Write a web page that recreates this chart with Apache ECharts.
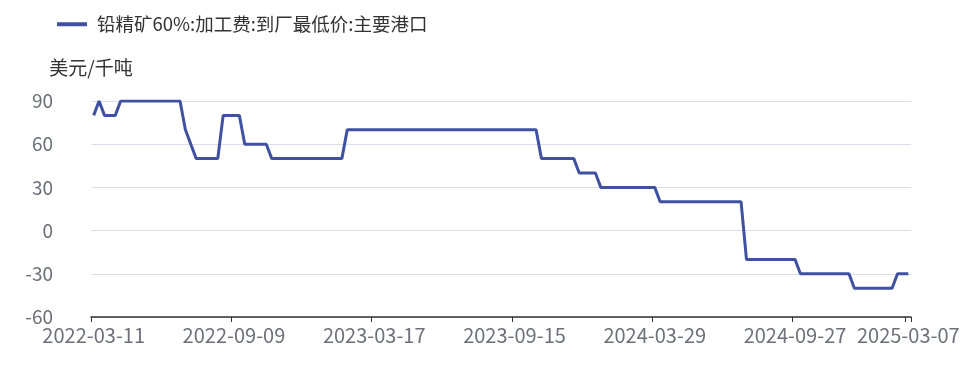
<!DOCTYPE html>
<html><head><meta charset="utf-8">
<script src="https://cdn.jsdelivr.net/npm/echarts@6/dist/echarts.min.js"></script>
<style>html,body{margin:0;padding:0;background:#fff}#c{width:980px;height:375px}</style>
</head><body><div id="c"></div>
<script>
const seriesName = '铅精矿60%:加工费:到厂最低价:主要港口';
const yUnit = '美元/千吨';
const dates = [
'2022-03-11','2022-03-18','2022-03-25','2022-04-01','2022-04-08','2022-04-15','2022-04-22','2022-04-29','2022-05-06','2022-05-13','2022-05-20','2022-05-27','2022-06-03','2022-06-10','2022-06-17','2022-06-24','2022-07-01','2022-07-08','2022-07-15','2022-07-22','2022-07-29','2022-08-05','2022-08-12','2022-08-19','2022-08-26','2022-09-02',
'2022-09-09','2022-09-16','2022-09-23','2022-09-30','2022-10-07','2022-10-14','2022-10-21','2022-10-28','2022-11-04','2022-11-11','2022-11-18','2022-11-25','2022-12-02','2022-12-09','2022-12-16','2022-12-23','2022-12-30','2023-01-06','2023-01-13','2023-01-20','2023-02-03','2023-02-10','2023-02-17','2023-02-24','2023-03-03','2023-03-10',
'2023-03-17','2023-03-24','2023-03-31','2023-04-07','2023-04-14','2023-04-21','2023-04-28','2023-05-05','2023-05-12','2023-05-19','2023-05-26','2023-06-02','2023-06-09','2023-06-16','2023-06-23','2023-06-30','2023-07-07','2023-07-14','2023-07-21','2023-07-28','2023-08-04','2023-08-11','2023-08-18','2023-08-25','2023-09-01','2023-09-08',
'2023-09-15','2023-09-22','2023-09-29','2023-10-13','2023-10-20','2023-10-27','2023-11-03','2023-11-10','2023-11-17','2023-11-24','2023-12-01','2023-12-08','2023-12-15','2023-12-22','2023-12-29','2024-01-05','2024-01-12','2024-01-19','2024-01-26','2024-02-02','2024-02-09','2024-02-23','2024-03-01','2024-03-08','2024-03-15','2024-03-22',
'2024-03-29','2024-04-05','2024-04-12','2024-04-19','2024-04-26','2024-05-03','2024-05-10','2024-05-17','2024-05-24','2024-05-31','2024-06-07','2024-06-14','2024-06-21','2024-06-28','2024-07-05','2024-07-12','2024-07-19','2024-07-26','2024-08-02','2024-08-09','2024-08-16','2024-08-23','2024-08-30','2024-09-06','2024-09-13','2024-09-20',
'2024-09-27','2024-10-11','2024-10-18','2024-10-25','2024-11-01','2024-11-08','2024-11-15','2024-11-22','2024-11-29','2024-12-06','2024-12-13','2024-12-20','2024-12-27','2025-01-03','2025-01-10','2025-01-17','2025-01-24','2025-02-07','2025-02-14','2025-02-21','2025-02-28','2025-03-07'
];
const values = [
80,90,80,80,80,
90,90,90,90,90,90,90,90,90,90,90,90,
70,60,
50,50,50,50,50,
80,80,80,80,
60,60,60,60,60,
50,50,50,50,50,50,50,50,50,50,50,50,50,50,
70,70,70,70,70,70,70,70,70,70,70,70,70,70,70,70,70,70,70,70,70,70,70,70,70,70,70,70,70,70,70,70,70,70,70,70,
50,50,50,50,50,50,50,
40,40,40,40,
30,30,30,30,30,30,30,30,30,30,30,
20,20,20,20,20,20,20,20,20,20,20,20,20,20,20,20,
-20,-20,-20,-20,-20,-20,-20,-20,-20,-20,
-30,-30,-30,-30,-30,-30,-30,-30,-30,-30,
-40,-40,-40,-40,-40,-40,-40,-40,
-30,-30,-30
];
const yMin = -60, yMax = 90, yStep = 30;

const FONT = '"Noto Sans CJK SC", "Noto Sans", sans-serif';
const labelIdx = new Set([0, 26, 52, 78, 104, 130, dates.length - 1]);
const chart = echarts.init(document.getElementById('c'));
chart.setOption({
  animation: false,
  textStyle: { fontFamily: FONT },
  legend: {
    left: 52, top: 10,
    icon: 'rect',
    itemWidth: 30, itemHeight: 4, itemGap: 10,
    textStyle: { fontSize: 18.5, color: '#333', fontFamily: FONT, padding: [0, 0, 0, 5] },
    data: [seriesName]
  },
  grid: { left: 91, right: 69, top: 101, bottom: 58, containLabel: false, outerBoundsMode: 'none' },
  xAxis: {
    type: 'category',
    data: dates,
    boundaryGap: true,
    axisLine: { onZero: false, lineStyle: { color: '#333', width: 1.5 } },
    axisTick: { show: true, length: 5, interval: function (i) { return labelIdx.has(i); }, lineStyle: { color: '#333' } },
    axisLabel: { interval: function (i) { return labelIdx.has(i); }, fontSize: 20, color: '#6e7079', margin: 8, fontFamily: FONT, hideOverlap: false },
    splitLine: { show: false }
  },
  yAxis: {
    type: 'value',
    min: yMin, max: yMax, interval: yStep,
    name: yUnit,
    nameGap: 24,
    nameTextStyle: { fontSize: 19, color: '#333', fontFamily: FONT },
    axisLine: { show: false },
    axisTick: { show: false },
    axisLabel: { fontSize: 19, color: '#6e7079', margin: 38, fontFamily: FONT },
    splitLine: { lineStyle: { color: '#D9DDEC' } }
  },
  series: [{
    name: seriesName,
    type: 'line',
    data: values,
    showSymbol: false,
    symbol: 'none',
    lineStyle: { width: 3, color: '#3f51a0' },
    itemStyle: { color: '#3f51a0' }
  }]
});
</script>
</body></html>
